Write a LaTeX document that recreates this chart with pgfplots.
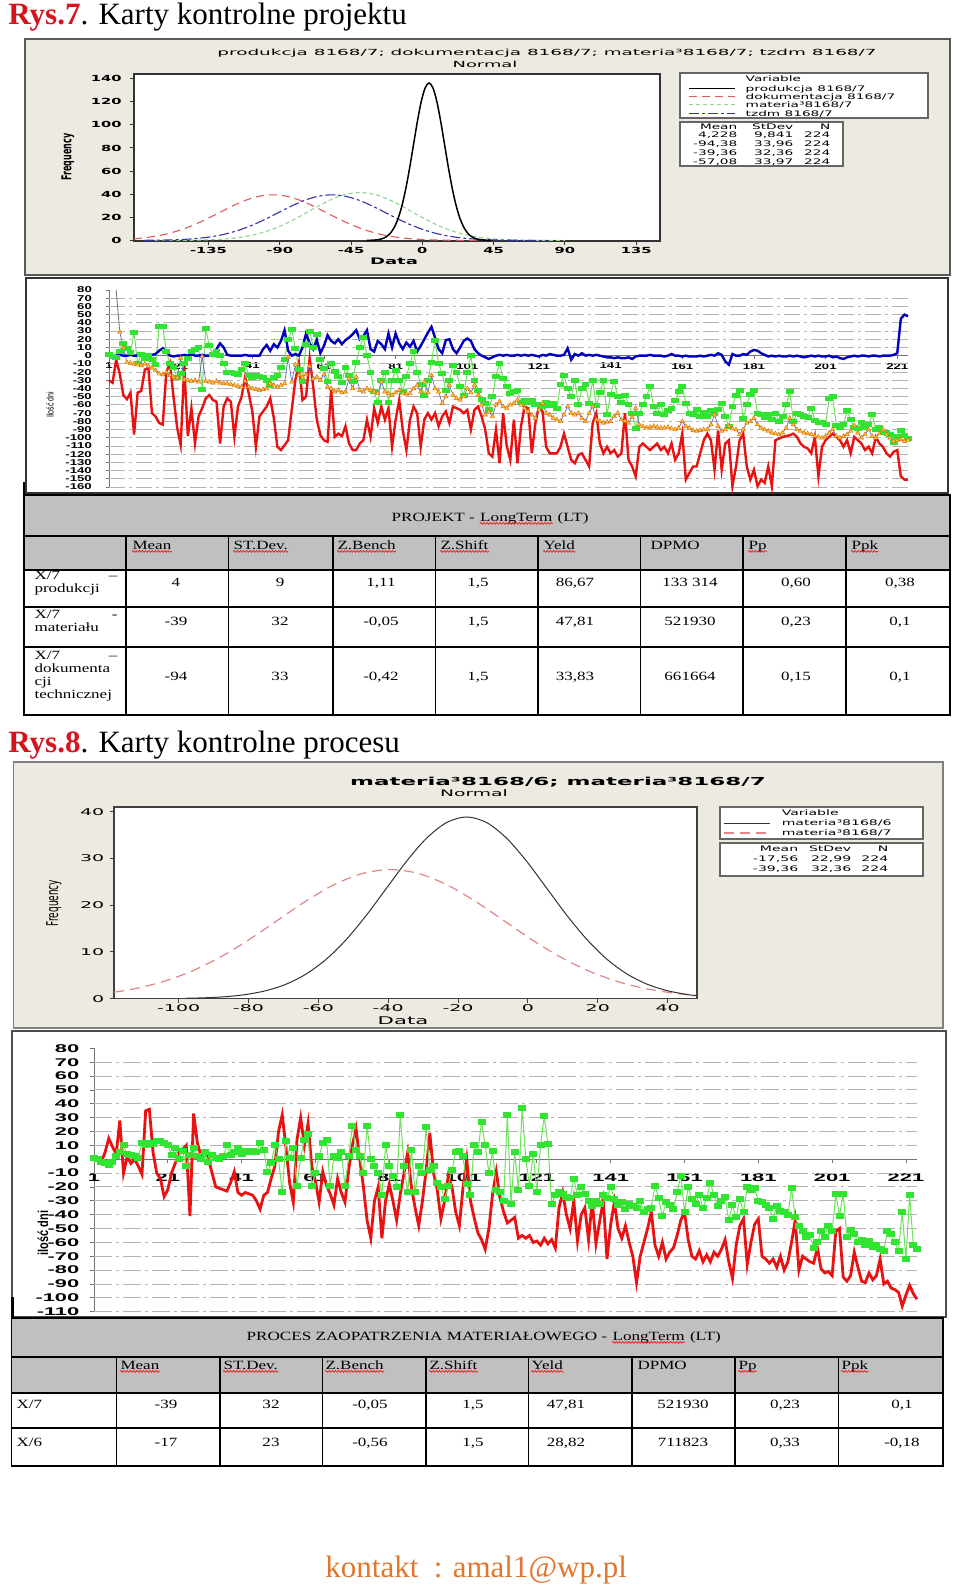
\documentclass[border=0pt]{standalone}
\usepackage{pgfplots}
\pgfplotsset{compat=1.18}
\usepackage{pgfplotstable}
\usepackage{fontspec}
\setmainfont{Liberation Serif}
\newfontfamily\mini{DejaVu Sans}
\newfontfamily\xl{Liberation Sans}
\usetikzlibrary{decorations.pathmorphing}
\definecolor{minibg}{RGB}{237,235,225}
\definecolor{xred}{RGB}{232,18,18}
\definecolor{xblue}{RGB}{0,0,190}
\definecolor{xgreen}{RGB}{50,228,50}
\definecolor{xgreenl}{RGB}{110,225,90}
\definecolor{xorange}{RGB}{255,190,60}
\definecolor{titlered}{RGB}{215,20,30}
\definecolor{foot}{RGB}{226,118,46}
\definecolor{tgray}{RGB}{192,192,192}
\definecolor{gridc}{RGB}{180,180,180}
\definecolor{mred}{RGB}{225,90,90}
\definecolor{mgreen}{RGB}{140,215,140}
\definecolor{mblue}{RGB}{50,50,175}
\definecolor{mpink}{RGB}{225,135,135}
\tikzset{
 lg/.style={font=\mini\fontsize{3.8}{4.5}\selectfont, inner sep=0pt, xscale=1.8},
 lg3/.style={font=\mini\fontsize{3.8}{4.5}\selectfont, inner sep=0pt, xscale=1.85},
 tt/.style={font=\fontsize{6.3}{7}\selectfont, inner sep=0pt, xscale=1.35},
 ttl/.style={font=\fontsize{6.3}{7}\selectfont, inner sep=0pt, xscale=1.36},
 wavy/.style={draw=red, line width=0.3pt, decorate, decoration={snake, amplitude=0.45pt, segment length=1.6pt}}
}
\newcommand\cell[3]{\node[tt, anchor=base] at (#1,-#2) {#3};}
\newcommand\lcell[3]{\node[tt, anchor=base west] at (#1,-#2) {#3};}
\newcommand\rcell[3]{\node[tt, anchor=base east] at (#1,-#2) {#3};}

\pgfplotstableread{
p prod dok mat tzdm xsix
1 0 -30 1 nan 1
2 0 -33 -1 nan 0
3 0 -5 -2 nan -2
4 1 -22 5 29 -3
5 0 -48 15 10 -4
6 0 -53 9 -8 -2
7 1 -45 4 -9 2
8 0 -96 28 -10 5
9 0 -45 -10 -11 10
10 0 -43 2 -12 4
11 1 -17 -3 -10 3
12 0 -15 0 -13 2
13 1 -70 -5 -15 1
14 2 -74 -11 -18 12
15 6 -82 35 -22 10
16 9 -84 36 -23 12
17 5 -20 5 -20 11
18 0 -9 -10 -24 13
19 -1 -50 -14 -26 13
20 0 -87 -27 -27 12
21 0 -109 -22 -3 10
22 1 -13 -10 -29 3
23 0 -98 -3 -30 8
24 2 -64 5 -31 0
25 0 -107 7 -30 6
26 0 -74 10 -32 -5
27 1 -64 -41 -1 3
28 0 -52 33 -31 8
29 0 -48 12 -32 2
30 3 -54 2 -33 0
31 8 -56 5 -31 5
32 15 -107 0 -33 -2
33 10 -62 -10 -34 3
34 1 -52 -20 -34 1
35 0 -56 -21 -35 0
36 0 -99 -22 -36 2
37 0 -62 -23 -37 10
38 0 -50 -17 -38 3
39 1 -26 -9 -31 5
40 0 -46 -24 -38 8
41 0 -68 -26 -40 4
42 0 -111 -24 -41 6
43 0 -74 -25 -42 5
44 8 -68 -26 -41 6
45 13 -62 -30 -40 5
46 6 -52 -36 -34 12
47 14 -76 -26 -36 7
48 10 -111 -24 -38 -9
49 18 -115 -14 -36 -3
50 31 -109 -5 -34 10
51 6 -103 20 -2 0
52 0 -66 32 -32 -24
53 2 -30 9 -11 13
54 0 -9 -17 -24 1
55 10 -54 -31 -26 8
56 27 -50 14 -23 -19
57 15 -3 30 -13 1
58 8 -38 10 -28 14
59 19 -78 26 -26 18
60 3 -97 -5 -30 -19
61 12 -103 -16 -23 -10
62 25 -105 -31 -38 2
63 18 -42 -9 -40 12
64 15 -99 -19 -44 14
65 20 -95 -25 -42 -19
66 14 -98 -33 -45 2
67 19 -86 -14 -44 1
68 22 -107 -24 -28 5
69 26 -115 -31 -40 -19
70 31 -115 -8 -26 2
71 20 -107 10 -42 24
72 24 -103 22 -44 7
73 31 -78 0 -40 2
74 8 -99 -20 -42 -10
75 5 -64 -44 -44 24
76 18 -82 -57 -46 0
77 14 -62 -30 -32 -5
78 8 -78 -20 -44 -10
79 27 -64 -57 -46 -26
80 10 -111 -30 -48 10
81 27 -78 -18 -45 -5
82 15 -54 -30 -42 -12
83 8 -91 -44 -46 -20
84 16 -115 -25 -47 32
85 11 -78 -10 -46 -5
86 18 -62 5 -40 -24
87 5 -70 -20 -36 7
88 12 -111 -35 -44 -24
89 20 -78 -48 -32 -5
90 28 -70 -30 -45 -10
91 35 -78 -8 -24 23
92 22 -70 19 -40 -8
93 8 -86 -10 -44 -5
94 3 -74 -22 -58 -17
95 19 -68 -43 -50 -20
96 20 -82 -30 -36 -29
97 8 -62 -12 -48 -19
98 3 -64 -20 -52 -8
99 10 -66 -38 -54 5
100 18 -70 -48 -50 6
101 21 -66 -20 -40 2
102 18 -90 0 -45 -18
103 8 -66 -30 -36 -26
104 3 -62 -42 -48 10
105 0 -74 -53 -60 5
106 -2 -90 -58 -72 27
107 -4 -119 -65 -68 10
108 -2 -123 -50 -74 -10
109 0 -90 -25 -60 6
110 1 -131 -9 -56 -22
111 0 -70 -28 -62 -24
112 1 -110 -38 -64 -30
113 0 -127 -46 -60 32
114 0 -78 -44 -58 -32
115 1 -131 -42 -54 5
116 0 -86 -57 -60 -22
117 1 -62 -55 -64 37
118 0 -64 -57 -68 0
119 1 -119 -55 -72 -19
120 0 -82 -60 -76 4
121 -1 -62 -59 -66 -24
122 1 -68 -62 -58 10
123 0 -111 -57 -70 31
124 2 -119 -61 -72 11
125 1 -119 -58 -76 -32
126 0 -119 -64 -78 -26
127 0 -111 -35 -80 -24
128 1 -95 -24 -72 -25
129 9 -111 -40 -62 -27
130 -5 -127 -50 -70 -28
131 2 -131 -30 -72 -14
132 0 -121 -59 -70 -26
133 3 -119 -40 -76 -20
134 0 -127 -35 -80 -25
135 1 -135 -58 -70 -30
136 0 -82 -30 -62 -34
137 1 -70 -61 -78 -30
138 0 -107 -45 -80 -32
139 -1 -119 -30 -82 -26
140 -2 -111 -72 -81 -28
141 -2 -119 -47 -80 -20
142 -3 -115 -31 -74 -29
143 -2 -123 -50 -70 -33
144 -3 -119 -57 -78 -31
145 -3 -70 -48 -80 -36
146 -2 -127 -60 -82 -32
147 -4 -135 -70 -75 -34
148 -1 -147 -89 -64 -35
149 0 -111 -70 -84 -30
150 0 -107 -60 -86 -38
151 0 -111 -50 -88 -36
152 1 -115 -38 -87 -35
153 0 -111 -62 -86 -19
154 0 -107 -70 -87 -28
155 0 -115 -60 -88 -41
156 -1 -111 -72 -88 -31
157 0 -119 -67 -87 -33
158 2 -107 -64 -89 -36
159 0 -127 -55 -90 -24
160 0 -119 -44 -88 -12
161 -1 -95 -38 -80 -38
162 0 -151 -58 -86 -20
163 -1 -143 -70 -88 -29
164 -1 -135 -72 -91 -32
165 -1 -135 -66 -92 -26
166 0 -119 -74 -91 -35
167 -1 -103 -69 -90 -28
168 0 -95 -74 -90 -17
169 1 -103 -67 -84 -26
170 0 -139 -70 -72 -34
171 3 -91 -65 -86 -30
172 1 -139 -58 -92 -27
173 -7 -107 -74 -90 -44
174 -11 -103 -86 -86 -33
175 2 -159 -62 -89 -42
176 0 -135 -48 -90 -29
177 0 -103 -43 -96 -38
178 2 -95 -76 -90 -20
179 1 -135 -60 -82 -22
180 5 -151 -47 -80 -21
181 7 -139 -43 -76 -30
182 6 -159 -70 -84 -31
183 3 -151 -72 -88 -33
184 1 -155 -75 -90 -35
185 -1 -135 -72 -92 -43
186 0 -159 -78 -94 -34
187 -1 -103 -70 -95 -37
188 0 -101 -80 -96 -38
189 -1 -99 -74 -94 -40
190 -1 -98 -60 -88 -21
191 0 -97 -44 -76 -42
192 -1 -95 -80 -84 -48
193 0 -99 -70 -90 -52
194 -1 -107 -72 -92 -56
195 -2 -111 -74 -94 -55
196 -1 -113 -75 -95 -64
197 0 -119 -64 -96 -60
198 -1 -99 -79 -98 -52
199 0 -147 -82 -99 -56
200 -1 -111 -81 -100 -48
201 -1 -103 -84 -98 -52
202 0 -99 -52 -94 -25
203 -2 -95 -50 -90 -41
204 -1 -99 -85 -98 -25
205 -3 -103 -88 -100 -56
206 -4 -111 -84 -98 -51
207 -2 -103 -67 -96 -54
208 -1 -119 -78 -92 -60
209 0 -99 -88 -85 -58
210 -1 -103 -89 -94 -62
211 0 -107 -82 -100 -59
212 0 -115 -87 -96 -63
213 -1 -111 -84 -90 -62
214 0 -119 -72 -98 -65
215 0 -99 -90 -100 -66
216 -1 -107 -88 -95 -52
217 0 -111 -93 -90 -54
218 0 -119 -94 -96 -60
219 0 -123 -96 -100 -66
220 1 -117 -106 -104 -38
221 3 -115 -98 -103 -72
222 45 -147 -91 -102 -26
223 50 -151 -97 -104 -62
224 48 -151 -101 -103 -65
}\tabdata

\begin{document}
\begin{tikzpicture}[x=0.5pt,y=0.5pt]
\fill[white] (0,0) rectangle (960,-1595);
\coordinate (A1) at (134,-241);
\coordinate (A2) at (109,-487);
\coordinate (A3) at (114,-998.7);
\coordinate (A4) at (94,-1311.7);

% ===== Section 1 =====
\node[anchor=base west, inner sep=0pt, font=\fontsize{15.5}{18}\selectfont] at (8,-25) {\textcolor{titlered}{\bfseries Rys.7}. Karty kontrolne projektu};

\draw[fill=minibg, draw=black!65, line width=0.8pt] (25,-39) rectangle (950,-275);
\node[inner sep=0pt, font=\mini\fontsize{4.2}{5}\selectfont, xscale=2.19] at (547,-53) {produkcja 8168/7; dokumentacja 8168/7; materia³8168/7; tzdm 8168/7};
\node[inner sep=0pt, font=\mini\fontsize{4.2}{5}\selectfont, xscale=2.13] at (485,-64) {Normal};
\node[inner sep=0pt, font=\mini\bfseries\fontsize{4}{4.5}\selectfont, rotate=90, yscale=1.7] at (68,-157) {Frequency};
\node[inner sep=0pt, font=\mini\bfseries\fontsize{4.5}{5}\selectfont, xscale=2] at (394,-261) {Data};

\begin{axis}[at={(A1)}, anchor=south west, scale only axis, width=263pt, height=83.5pt,
 xmin=-182, xmax=150, ymin=-0.5, ymax=144,
 axis background/.style={fill=white},
 axis line style={draw=black!80, line width=0.6pt},
 xtick={-135,-90,-45,0,45,90,135}, ytick={0,20,...,140},
 tick align=outside, xtick pos=left, ytick pos=left, major tick length=2pt,
 tick style={draw=black!80, line width=0.5pt},
 ticklabel style={font=\mini\bfseries\fontsize{4.2}{5}\selectfont, inner sep=0.5pt, xscale=1.75},
 yticklabel shift=3pt, xticklabel shift=0.5pt,
 /pgf/number format/assume math mode=true]
\addplot[mred, line width=0.55pt, dash pattern=on 4pt off 2.5pt, smooth] coordinates {(-182,1.42) (-179.28,1.73) (-170.79,3.14) (-162.30,5.34) (-153.81,8.54) (-145.32,12.82) (-136.83,18.07) (-128.34,23.94) (-119.85,29.79) (-111.36,34.83) (-102.87,38.25) (-94.38,39.47) (-85.89,38.25) (-77.40,34.83) (-68.91,29.79) (-60.42,23.94) (-51.93,18.07) (-43.44,12.82) (-34.95,8.54) (-26.46,5.34) (-17.97,3.14) (-9.48,1.73) (-0.99,0.90) (7.50,0.44) (15.99,0.20) (24.48,0.09) (32.97,0.03) (41.46,0.01)};
\addplot[mgreen, line width=0.55pt, dash pattern=on 2pt off 1.5pt, smooth] coordinates {(-168.80,0.01) (-160.71,0.04) (-152.62,0.09) (-144.53,0.21) (-136.44,0.46) (-128.35,0.94) (-120.26,1.82) (-112.17,3.30) (-104.08,5.60) (-95.99,8.96) (-87.90,13.45) (-79.81,18.96) (-71.72,25.12) (-63.63,31.26) (-55.54,36.55) (-47.45,40.14) (-39.36,41.42) (-31.27,40.14) (-23.18,36.55) (-15.09,31.26) (-7.00,25.12) (1.09,18.96) (9.18,13.45) (17.27,8.96) (25.36,5.60) (33.45,3.30) (41.54,1.82) (49.63,0.94) (57.72,0.46) (65.81,0.21) (73.90,0.09) (81.99,0.04) (90.08,0.01)};
\addplot[mblue, line width=0.55pt, dash pattern=on 5pt off 1.5pt on 1.5pt off 1.5pt, smooth] coordinates {(-175.98,0.09) (-167.49,0.20) (-158.99,0.44) (-150.50,0.90) (-142.01,1.73) (-133.51,3.14) (-125.02,5.34) (-116.53,8.54) (-108.04,12.81) (-99.54,18.07) (-91.05,23.93) (-82.56,29.78) (-74.07,34.82) (-65.57,38.24) (-57.08,39.46) (-48.59,38.24) (-40.09,34.82) (-31.60,29.78) (-23.11,23.93) (-14.62,18.07) (-6.12,12.81) (2.37,8.54) (10.86,5.34) (19.35,3.14) (27.85,1.73) (36.34,0.90) (44.83,0.44) (53.32,0.20) (61.82,0.09) (70.31,0.04) (78.80,0.01)};
\addplot[black, line width=0.75pt, smooth] coordinates {(-35.14,0.05) (-32.68,0.12) (-30.22,0.30) (-27.76,0.69) (-25.30,1.51) (-22.84,3.11) (-20.37,5.98) (-17.91,10.84) (-15.45,18.43) (-12.99,29.46) (-10.53,44.22) (-8.07,62.35) (-5.61,82.61) (-3.15,102.80) (-0.69,120.20) (1.77,132.00) (4.23,136.20) (6.69,132.00) (9.15,120.20) (11.61,102.80) (14.07,82.61) (16.53,62.35) (18.99,44.22) (21.45,29.46) (23.91,18.43) (26.37,10.84) (28.83,5.98) (31.29,3.11) (33.75,1.51) (36.21,0.69) (38.67,0.30) (41.13,0.12) (43.59,0.05)};
\end{axis}

% legend chart 1
\draw[draw=black!60, line width=0.7pt, fill=white] (680,-73) rectangle (928,-118);
\node[lg, anchor=west] at (745,-79) {Variable};
\draw[black, line width=0.5pt] (689,-89) -- (735,-89);
\node[lg, anchor=west] at (745,-89) {produkcja 8168/7};
\draw[mred, line width=0.5pt, dash pattern=on 4pt off 2.5pt] (689,-97) -- (735,-97);
\node[lg, anchor=west] at (745,-97) {dokumentacja 8168/7};
\draw[mgreen, line width=0.5pt, dash pattern=on 2pt off 1.5pt] (689,-105) -- (735,-105);
\node[lg, anchor=west] at (745,-105) {materia³8168/7};
\draw[mblue, line width=0.5pt, dash pattern=on 5pt off 1.5pt on 1.5pt off 1.5pt] (689,-114) -- (735,-114);
\node[lg, anchor=west] at (745,-114) {tzdm 8168/7};
\draw[draw=black!60, line width=0.7pt, fill=white] (680,-122) rectangle (843,-166);
\node[lg, anchor=east] at (738,-127) {Mean};
\node[lg, anchor=east] at (794,-127) {StDev};
\node[lg, anchor=east] at (831,-127) {N};
\node[lg, anchor=east] at (738,-135) {4,228};
\node[lg, anchor=east] at (794,-135) {9,841};
\node[lg, anchor=east] at (831,-135) {224};
\node[lg, anchor=east] at (738,-144) {-94,38};
\node[lg, anchor=east] at (794,-144) {33,96};
\node[lg, anchor=east] at (831,-144) {224};
\node[lg, anchor=east] at (738,-153) {-39,36};
\node[lg, anchor=east] at (794,-153) {32,36};
\node[lg, anchor=east] at (831,-153) {224};
\node[lg, anchor=east] at (738,-162) {-57,08};
\node[lg, anchor=east] at (794,-162) {33,97};
\node[lg, anchor=east] at (831,-162) {224};

% chart 2 panel
\draw[fill=white, draw=black!80, line width=0.7pt] (26,-278) rectangle (948,-493);
\draw[black, line width=1.2pt] (24,-482) -- (24,-495);
\node[inner sep=0pt, font=\xl\fontsize{3.5}{4}\selectfont, rotate=90, yscale=1.4] at (50,-405) {Ilość dni};

\begin{axis}[at={(A2)}, anchor=south west, scale only axis, width=399.5pt, height=98.5pt,
 xmin=1, xmax=224, ymin=-160, ymax=80, clip=false,
 axis x line*=middle, axis y line*=left,
 hide obscured x ticks=false, hide obscured y ticks=false,
 axis line style={draw=black!55, line width=0.5pt},
 xtick={1,21,...,221}, ytick={-160,-150,...,80},
 extra y ticks={-160,-150,...,-10,10,20,...,70}, extra y tick labels={},
 extra y tick style={grid=major, major tick length=0pt},
 major grid style={draw=gridc, line width=0.45pt, dash pattern=on 8pt off 2pt on 1.5pt off 2pt},
 tick style={draw=black!55, line width=0.4pt}, major tick length=1.5pt, tick align=outside,
 ticklabel style={font=\xl\bfseries\fontsize{4.25}{5}\selectfont, inner sep=0.5pt, xscale=1.55},
 yticklabel shift=6pt, xticklabel shift=1.5pt,
 /pgf/number format/assume math mode=true]
\addplot[xred, line width=1.2pt] table[x=p, y=dok] {\tabdata};
\addplot[xgreenl, line width=0.5pt, mark=square*, mark size=1pt, mark options={fill=xgreen, draw=xgreen, xscale=1.7}] table[x=p, y=mat] {\tabdata};
\addplot[black!55, line width=0.4pt] coordinates {(3,80) (4,29)};
\addplot[black!50!blue!60, line width=0.35pt, mark=triangle*, mark size=1.3pt, mark options={fill=xorange, draw=orange!85!black, line width=0.2pt}] table[x=p, y=tzdm] {\tabdata};
\addplot[xblue, line width=1.2pt] table[x=p, y=prod] {\tabdata};
\end{axis}

% table 1
\fill[tgray] (24,-495) rectangle (950,-570);
\draw[line width=0.8pt] (24,-495) rectangle (950,-715);
\draw[line width=0.6pt] (24,-536) -- (950,-536) (24,-570) -- (950,-570) (24,-607) -- (950,-607) (24,-647) -- (950,-647);
\foreach \x in {126,228.5,333,435.5,538,640.5,743,846} \draw[line width=0.6pt] (\x,-536) -- (\x,-715);
\node[ttl, anchor=base west] (a1) at (391,-521) {PROJEKT -\ \null};
\node[ttl, anchor=base west] (b1) at (a1.base east) {LongTerm};
\node[ttl, anchor=base west] at (b1.base east) {\null\ (LT)};
\draw[wavy] ([yshift=-1.2pt]b1.base west) -- ([yshift=-1.2pt]b1.base east);
\foreach \x/\t/\w in {132/Mean/1,233/ST.Dev./1,337/Z.Bench/1,440/Z.Shift/1,543/Yeld/1,650/DPMO/0,748/Pp/1,851/Ppk/1}{
 \node[tt, anchor=base west] (h) at (\x,-549) {\t};
 \ifnum\w=1 \draw[wavy] ([yshift=-1.2pt]h.base west) -- ([yshift=-1.2pt]h.base east);\fi
}
\lcell{34}{579}{X/7}\rcell{118}{579}{–}\lcell{34}{592}{produkcji}
\lcell{34}{618}{X/7}\rcell{118}{618}{-}\lcell{34}{631}{materiału}
\lcell{34}{659}{X/7}\rcell{118}{659}{–}\lcell{34}{672}{dokumenta}\lcell{34}{685}{cji}\lcell{34}{698}{technicznej}
\cell{176}{586}{4}\cell{280}{586}{9}\cell{381}{586}{1,11}\cell{478}{586}{1,5}\cell{575}{586}{86,67}\cell{690}{586}{133 314}\cell{796}{586}{0,60}\cell{900}{586}{0,38}
\cell{176}{625.5}{-39}\cell{280}{625.5}{32}\cell{381}{625.5}{-0,05}\cell{478}{625.5}{1,5}\cell{575}{625.5}{47,81}\cell{690}{625.5}{521930}\cell{796}{625.5}{0,23}\cell{900}{625.5}{0,1}
\cell{176}{680}{-94}\cell{280}{680}{33}\cell{381}{680}{-0,42}\cell{478}{680}{1,5}\cell{575}{680}{33,83}\cell{690}{680}{661664}\cell{796}{680}{0,15}\cell{900}{680}{0,1}

% ===== Section 2 =====
\node[anchor=base west, inner sep=0pt, font=\fontsize{15.5}{18}\selectfont] at (8,-752) {\textcolor{titlered}{\bfseries Rys.8}. Karty kontrolne procesu};

\draw[fill=minibg, draw=black!50, line width=0.6pt] (13.5,-762) rectangle (943,-1028);
\node[inner sep=0pt, font=\mini\bfseries\fontsize{5.5}{6.5}\selectfont, xscale=2.09] at (558,-782) {materia³8168/6; materia³8168/7};
\node[inner sep=0pt, font=\mini\fontsize{4.5}{5}\selectfont, xscale=2.08] at (474,-793) {Normal};
\node[inner sep=0pt, font=\mini\fontsize{4.5}{5}\selectfont, rotate=90, yscale=1.8] at (54,-903) {Frequency};
\node[inner sep=0pt, font=\mini\fontsize{5.3}{6}\selectfont, xscale=2] at (403,-1021) {Data};

\begin{axis}[at={(A3)}, anchor=south west, scale only axis, width=291.5pt, height=95.85pt,
 xmin=-118.5, xmax=48.4, ymin=0, ymax=41,
 axis background/.style={fill=white},
 axis line style={draw=black!75, line width=0.6pt},
 xtick={-100,-80,...,40}, ytick={0,10,...,40},
 tick align=outside, xtick pos=left, ytick pos=left, major tick length=2pt,
 tick style={draw=black!75, line width=0.5pt},
 ticklabel style={font=\mini\fontsize{4.65}{5.5}\selectfont, inner sep=0.5pt, xscale=2.04},
 yticklabel shift=1.5pt,
 /pgf/number format/assume math mode=true]
\addplot[mpink, line width=0.6pt, dash pattern=on 5pt off 3pt, smooth] coordinates {(-118.5,1.39) (-112.17,2.20) (-104.08,3.74) (-95.99,5.97) (-87.90,8.97) (-79.81,12.64) (-71.72,16.75) (-63.63,20.85) (-55.54,24.37) (-47.45,26.77) (-39.36,27.62) (-31.27,26.77) (-23.18,24.37) (-15.09,20.85) (-7.00,16.75) (1.09,12.64) (9.18,8.97) (17.27,5.97) (25.36,3.74) (33.45,2.20) (41.54,1.21) (48.4,0.70)};
\addplot[black!80, line width=0.5pt, smooth] coordinates {(-98.03,0.09) (-92.28,0.20) (-86.53,0.43) (-80.78,0.89) (-75.04,1.71) (-69.29,3.09) (-63.54,5.26) (-57.79,8.41) (-52.05,12.62) (-46.30,17.80) (-40.55,23.57) (-34.80,29.34) (-29.06,34.30) (-23.31,37.67) (-17.56,38.87) (-11.81,37.67) (-6.07,34.30) (-0.32,29.34) (5.43,23.57) (11.18,17.80) (16.93,12.62) (22.67,8.41) (28.42,5.26) (34.17,3.09) (39.92,1.71) (45.66,0.89) (48.4,0.63)};
\end{axis}

% legend chart 3
\draw[draw=black!60, line width=0.7pt, fill=white] (720,-807) rectangle (923,-839);
\node[lg3, anchor=west] at (781,-813) {Variable};
\draw[black!80, line width=0.5pt] (724,-823) -- (770,-823);
\node[lg3, anchor=west] at (781,-823) {materia³8168/6};
\draw[mpink, line width=0.6pt, dash pattern=on 5pt off 3pt] (724,-833) -- (770,-833);
\node[lg3, anchor=west] at (781,-833) {materia³8168/7};
\draw[draw=black!60, line width=0.7pt, fill=white] (720,-843) rectangle (923,-876);
\node[lg3, anchor=east] at (799,-849) {Mean};
\node[lg3, anchor=east] at (852,-849) {StDev};
\node[lg3, anchor=east] at (889,-849) {N};
\node[lg3, anchor=east] at (799,-859) {-17,56};
\node[lg3, anchor=east] at (852,-859) {22,99};
\node[lg3, anchor=east] at (889,-859) {224};
\node[lg3, anchor=east] at (799,-869) {-39,36};
\node[lg3, anchor=east] at (852,-869) {32,36};
\node[lg3, anchor=east] at (889,-869) {224};

% chart 4 panel
\draw[fill=white, draw=black!70, line width=0.6pt] (12,-1031) rectangle (946,-1317);
\draw[black, line width=1.2pt] (12.5,-1297) -- (12.5,-1318);
\node[inner sep=0pt, font=\xl\bfseries\fontsize{5.5}{6.5}\selectfont, rotate=90, yscale=1.3] at (43,-1233) {ilość dni};

\begin{axis}[at={(A4)}, anchor=south west, scale only axis, width=411.5pt, height=131.7pt,
 xmin=1, xmax=224, ymin=-110, ymax=80, clip=false,
 axis x line*=middle, axis y line*=left,
 hide obscured x ticks=false, hide obscured y ticks=false,
 axis line style={draw=black!55, line width=0.5pt},
 xtick={1,21,...,221}, ytick={-110,-100,...,80},
 extra y ticks={-110,-100,...,-10,10,20,...,70}, extra y tick labels={},
 extra y tick style={grid=major, major tick length=0pt},
 major grid style={draw=gridc, line width=0.45pt, dash pattern=on 9pt off 2pt on 1.5pt off 2pt},
 tick style={draw=black!55, line width=0.4pt}, major tick length=2pt, tick align=outside,
 ticklabel style={font=\xl\bfseries\fontsize{5.6}{6.5}\selectfont, inner sep=0.5pt, xscale=1.95},
 yticklabel shift=4pt, xticklabel shift=4.5pt,
 /pgf/number format/assume math mode=true]
\addplot[xred, line width=1.4pt] table[x=p, y=mat] {\tabdata};
\addplot[xgreenl, line width=0.5pt, mark=square*, mark size=1.25pt, mark options={fill=xgreen, draw=xgreen, xscale=1.4}] table[x=p, y=xsix] {\tabdata};
\end{axis}

% table 2
\fill[tgray] (11.5,-1318) rectangle (943,-1393);
\draw[line width=0.8pt] (11.5,-1318) rectangle (943,-1466);
\draw[line width=0.6pt] (11.5,-1357) -- (943,-1357) (11.5,-1393) -- (943,-1393) (11.5,-1428) -- (943,-1428);
\foreach \x in {116.5,220,322.5,426,528.5,632,735,838.5} \draw[line width=0.6pt] (\x,-1357) -- (\x,-1466);
\node[ttl, anchor=base west] (a2) at (246,-1340) {PROCES ZAOPATRZENIA MATERIAŁOWEGO -\ \null};
\node[ttl, anchor=base west] (b2) at (a2.base east) {LongTerm};
\node[ttl, anchor=base west] at (b2.base east) {\null\ (LT)};
\draw[wavy] ([yshift=-1.2pt]b2.base west) -- ([yshift=-1.2pt]b2.base east);
\foreach \x/\t/\w in {120/Mean/1,223/ST.Dev./1,325/Z.Bench/1,429/Z.Shift/1,531/Yeld/1,637/DPMO/0,738/Pp/1,841/Ppk/1}{
 \node[tt, anchor=base west] (h) at (\x,-1369) {\t};
 \ifnum\w=1 \draw[wavy] ([yshift=-1.2pt]h.base west) -- ([yshift=-1.2pt]h.base east);\fi
}
\lcell{16}{1408}{X/7}\lcell{16}{1446.5}{X/6}
\cell{166}{1408}{-39}\cell{271}{1408}{32}\cell{370}{1408}{-0,05}\cell{473}{1408}{1,5}\cell{566}{1408}{47,81}\cell{683}{1408}{521930}\cell{785}{1408}{0,23}\cell{902}{1408}{0,1}
\cell{166}{1446.5}{-17}\cell{271}{1446.5}{23}\cell{370}{1446.5}{-0,56}\cell{473}{1446.5}{1,5}\cell{566}{1446.5}{28,82}\cell{683}{1446.5}{711823}\cell{785}{1446.5}{0,33}\cell{902}{1446.5}{-0,18}

% footer
\node[anchor=base west, inner sep=0pt, font=\fontsize{15.5}{18}\selectfont, text=foot] at (325,-1577) {kontakt\ \ : amal1@wp.pl};
\end{tikzpicture}
\end{document}
